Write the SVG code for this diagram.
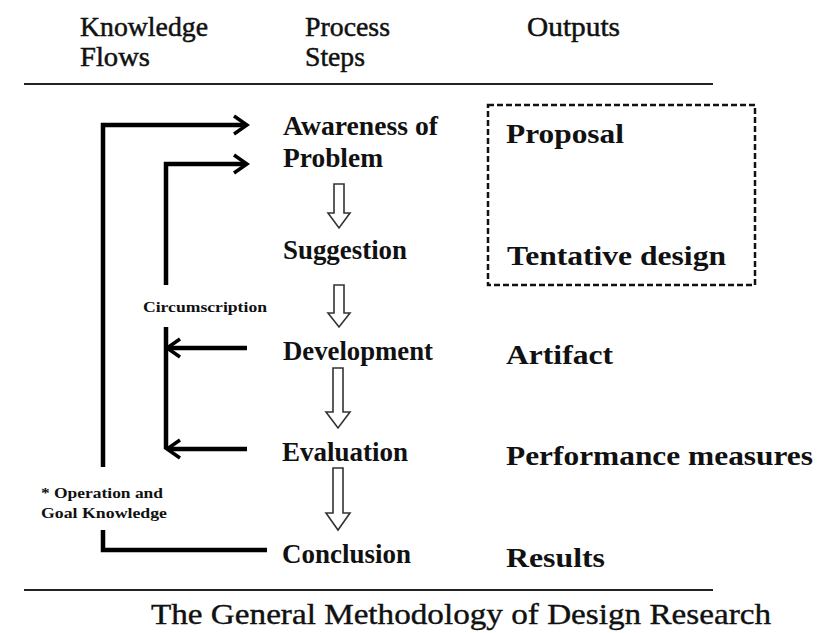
<svg xmlns="http://www.w3.org/2000/svg" width="819" height="633" viewBox="0 0 819 633">
<style>
text{font-family:"Liberation Serif","Times New Roman",serif;fill:#111}
.hd{font-size:28px;stroke:#111;stroke-width:0.5}
.st{font-size:27px;font-weight:bold}
.out{font-size:28px;font-weight:bold}
.sm{font-size:15px;font-weight:bold}
.ttl{font-size:30px;stroke:#111;stroke-width:0.4}
.rule{stroke:#222;stroke-width:2}
.conn{fill:none;stroke:#000;stroke-width:4.5;stroke-linejoin:miter}
.blk{fill:#fff;stroke:#333;stroke-width:1.6}
</style>
<defs>
<marker id="ah" markerUnits="userSpaceOnUse" viewBox="0 0 18 24" markerWidth="18" markerHeight="24" refX="12" refY="12" orient="auto">
<path d="M2,3 L15,12 L2,21" fill="none" stroke="#000" stroke-width="3.5"/>
</marker>
</defs>
<rect width="819" height="633" fill="#fff"/>
<g id="headers">
<text class="hd" x="80" y="36" textLength="128" lengthAdjust="spacingAndGlyphs">Knowledge</text>
<text class="hd" x="80" y="66" textLength="70" lengthAdjust="spacingAndGlyphs">Flows</text>
<text class="hd" x="305" y="36" textLength="85" lengthAdjust="spacingAndGlyphs">Process</text>
<text class="hd" x="305" y="66" textLength="60" lengthAdjust="spacingAndGlyphs">Steps</text>
<text class="hd" x="527" y="36" textLength="93" lengthAdjust="spacingAndGlyphs">Outputs</text>
</g>
<line class="rule" x1="24" y1="84" x2="713" y2="84"/>
<line class="rule" x1="24" y1="590" x2="713" y2="590"/>
<g id="connectors">
<path class="conn" d="M103,467 V125 H244" marker-end="url(#ah)"/>
<path class="conn" d="M103,530 V550 H267"/>
<path class="conn" d="M166,285 V164 H244" marker-end="url(#ah)"/>
<path class="conn" d="M166,327 V449"/>
<path class="conn" d="M247,348 H170" marker-end="url(#ah)"/>
<path class="conn" d="M247,449 H170" marker-end="url(#ah)"/>
<path class="blk" d="M334,184 H344 V213 H350 L339,228 L328,213 H334 Z"/>
<path class="blk" d="M334,285 H344 V313 H350 L339,327 L328,313 H334 Z"/>
<path class="blk" d="M333,368 H343 V412 H350 L338,428 L326,412 H333 Z"/>
<path class="blk" d="M333,468 H343 V513 H350 L338,530 L326,513 H333 Z"/>
</g>
<g id="label-circumscription">
<text class="sm" x="143" y="312" textLength="124" lengthAdjust="spacingAndGlyphs">Circumscription</text>
</g>
<g id="label-operation">
<text class="sm" x="41" y="498" textLength="122" lengthAdjust="spacingAndGlyphs">* Operation and</text>
<text class="sm" x="41" y="518" textLength="126" lengthAdjust="spacingAndGlyphs">Goal Knowledge</text>
</g>
<g id="step-awareness">
<text class="st" x="283" y="135" textLength="155" lengthAdjust="spacingAndGlyphs">Awareness of</text>
<text class="st" x="283" y="167" textLength="100" lengthAdjust="spacingAndGlyphs">Problem</text>
</g>
<g id="step-suggestion"><text class="st" x="283" y="259" textLength="124" lengthAdjust="spacingAndGlyphs">Suggestion</text></g>
<g id="step-development"><text class="st" x="283" y="360" textLength="150" lengthAdjust="spacingAndGlyphs">Development</text></g>
<g id="step-evaluation"><text class="st" x="282" y="461" textLength="126" lengthAdjust="spacingAndGlyphs">Evaluation</text></g>
<g id="step-conclusion"><text class="st" x="282" y="563" textLength="129" lengthAdjust="spacingAndGlyphs">Conclusion</text></g>
<g id="out-box">
<rect x="488" y="105" width="267" height="180" fill="none" stroke="#111" stroke-width="2.5" stroke-dasharray="6,3"/>
<text class="out" x="506" y="143" textLength="118" lengthAdjust="spacingAndGlyphs">Proposal</text>
<text class="out" x="507" y="265" textLength="219" lengthAdjust="spacingAndGlyphs">Tentative design</text>
</g>
<g id="out-artifact"><text class="out" x="506" y="364" textLength="107" lengthAdjust="spacingAndGlyphs">Artifact</text></g>
<g id="out-performance"><text class="out" x="506" y="465" textLength="307" lengthAdjust="spacingAndGlyphs">Performance measures</text></g>
<g id="out-results"><text class="out" x="506" y="567" textLength="99" lengthAdjust="spacingAndGlyphs">Results</text></g>
<g id="title">
<text class="ttl" x="151" y="624" textLength="620" lengthAdjust="spacingAndGlyphs">The General Methodology of Design Research</text>
</g>
</svg>
